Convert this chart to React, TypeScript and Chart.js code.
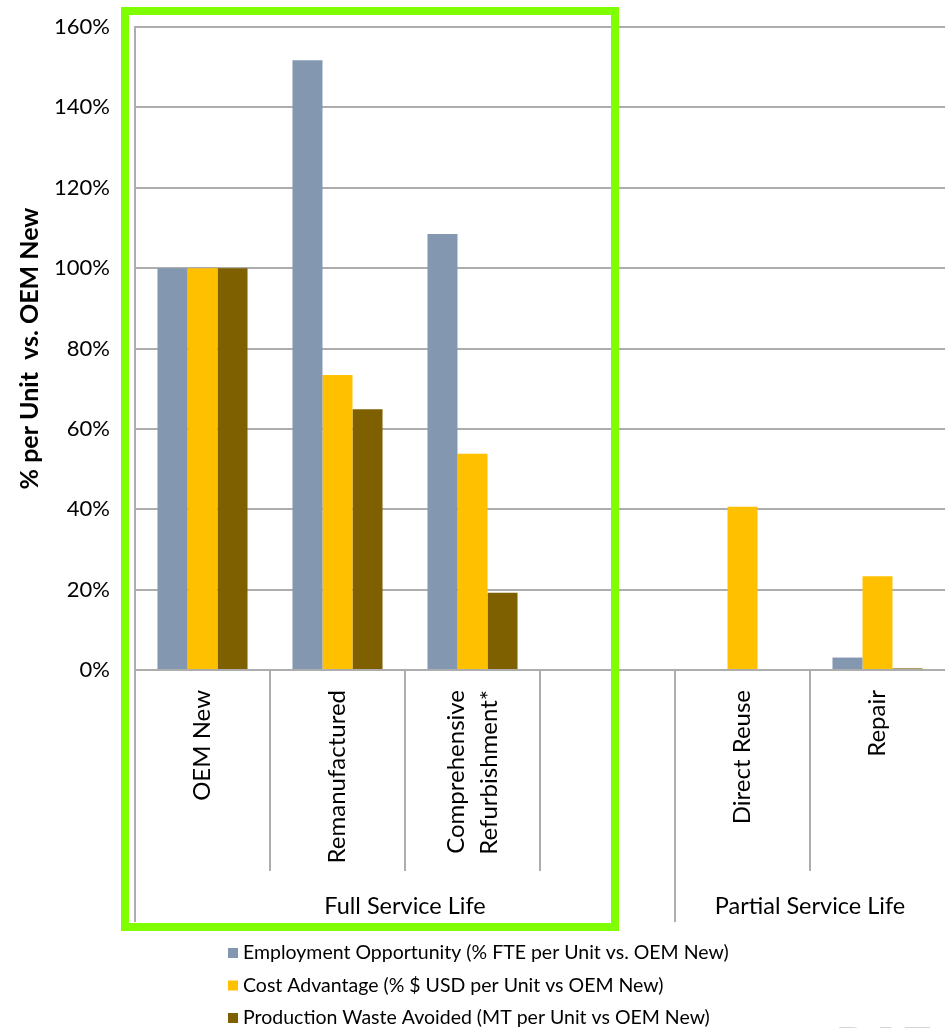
import React, { useEffect, useRef } from 'react';
import { Chart, registerables } from 'chart.js';

Chart.register(...registerables);

// Product categories along the x axis (the blank slot separates the two service-life groups)
const categories: (string | string[])[] = [
  'OEM New',
  'Remanufactured',
  ['Comprehensive', 'Refurbishment*'],
  '',
  'Direct Reuse',
  'Repair',
];

// Values in % per unit relative to OEM New
const employmentOpportunity: (number | null)[] = [100, 151.7, 108.5, null, null, 3.1];
const costAdvantage: (number | null)[] = [100, 73.4, 53.8, null, 40.6, 23.3];
const productionWasteAvoided: (number | null)[] = [100, 64.9, 19.2, null, null, 0.4];

const seriesNames = [
  'Employment Opportunity (% FTE per Unit vs. OEM New)',
  'Cost Advantage (% $ USD per Unit vs OEM New)',
  'Production Waste Avoided (MT per Unit vs OEM New)',
];
const seriesColors = ['#8497B0', '#FFC000', '#7F6000'];

// Category groups: label, first index, end index (exclusive)
const groupLabels = ['Full Service Life', 'Partial Service Life'];
const groupStarts = [0, 4];
const groupEnds = [4, 6];

const yMin = 0;
const yMax = 160;
const yStep = 20;
const yTitle = '% per Unit  vs. OEM New';

const FONT = 'Lato, "Open Sans", sans-serif';
const LINE = '#ADADAD';

const decorPlugin = {
  id: 'decor',
  afterDraw(chart: any) {
    const { ctx } = chart;
    const xs = chart.scales.x;
    const n = categories.length;
    const cw = (xs.right - xs.left) / n;
    const axisY = xs.top;

    ctx.save();
    // category separators below the axis; longer ones at group boundaries
    ctx.strokeStyle = LINE;
    ctx.lineWidth = 2;
    for (let i = 0; i < n; i++) {
      const x = Math.round(xs.left + i * cw);
      const isGroupEdge = groupStarts.includes(i);
      ctx.beginPath();
      ctx.moveTo(x, axisY);
      ctx.lineTo(x, isGroupEdge ? axisY + 252 : axisY + 201);
      ctx.stroke();
    }

    // rotated category labels, multi-line labels centred on their category
    ctx.fillStyle = '#000';
    ctx.font = `24px ${FONT}`;
    ctx.textAlign = 'right';
    ctx.textBaseline = 'middle';
    categories.forEach((lab, i) => {
      const lines = Array.isArray(lab) ? lab : [lab];
      const cx = xs.getPixelForValue(i);
      lines.forEach((ln, j) => {
        const lx = cx + (j - (lines.length - 1) / 2) * 33;
        ctx.save();
        ctx.translate(lx, axisY + 20);
        ctx.rotate(-Math.PI / 2);
        ctx.fillText(ln, 0, 0);
        ctx.restore();
      });
    });

    // group labels
    ctx.font = `23.5px ${FONT}`;
    ctx.textAlign = 'center';
    ctx.textBaseline = 'middle';
    groupLabels.forEach((g, gi) => {
      const cx = xs.left + ((groupStarts[gi] + groupEnds[gi]) / 2) * cw;
      ctx.fillText(g, cx, axisY + 236);
    });

    // highlight frame around the full-service-life group
    ctx.strokeStyle = '#80FF00';
    ctx.lineWidth = 8;
    ctx.strokeRect(125, 11, 490, 916);

    // legend
    ctx.font = `19.5px ${FONT}`;
    ctx.textAlign = 'left';
    ctx.textBaseline = 'middle';
    seriesNames.forEach((name, i) => {
      const y = 953 + i * 32.5;
      ctx.fillStyle = seriesColors[i];
      ctx.fillRect(228, y - 5, 10, 10);
      ctx.fillStyle = '#000';
      ctx.fillText(name, 243, y);
    });

    // faint watermark letters at the bottom edge
    ctx.fillStyle = 'rgba(150,150,150,0.4)';
    ctx.font = '44px "Liberation Serif", serif';
    ctx.textBaseline = 'top';
    ctx.textAlign = 'left';
    ctx.fillText('R I T', 838, 1022);
    ctx.restore();
  },
};

export default function App() {
  const ref = useRef<HTMLCanvasElement | null>(null);

  useEffect(() => {
    if (!ref.current) return;
    const chart = new Chart(ref.current, {
      type: 'bar',
      data: {
        labels: categories as any,
        datasets: [employmentOpportunity, costAdvantage, productionWasteAvoided].map((d, i) => ({
          label: seriesNames[i],
          data: d,
          backgroundColor: seriesColors[i],
          borderWidth: 0,
          categoryPercentage: 0.667,
          barPercentage: 1,
        })),
      },
      options: {
        animation: false,
        responsive: false,
        devicePixelRatio: 1,
        layout: { padding: { top: 27, right: 0, left: 0, bottom: 0 } },
        plugins: {
          legend: { display: false },
          tooltip: { enabled: false },
        },
        scales: {
          x: {
            offset: true,
            grid: { display: false },
            border: { display: true, color: LINE, width: 2 },
            ticks: { display: false },
            afterFit: (s: any) => {
              s.height = 358;
            },
          },
          y: {
            min: yMin,
            max: yMax,
            grid: { color: LINE, lineWidth: 2, drawTicks: false },
            border: { display: true, color: LINE, width: 2 },
            ticks: {
              stepSize: yStep,
              padding: 25,
              color: '#000',
              font: { family: FONT, size: 22 },
              callback: (v: any) => `${v}%`,
            },
            title: {
              display: true,
              text: yTitle,
              color: '#000',
              font: { family: FONT, size: 25, weight: 'bold' },
              padding: { top: 15, bottom: 0 },
            },
            afterFit: (s: any) => {
              s.width = 135;
              s.paddingTop = 0;
              s.paddingBottom = 0;
            },
          },
        },
      },
      plugins: [decorPlugin],
    });
    return () => chart.destroy();
  }, []);

  return (
    <div style={{ position: 'absolute', left: 0, top: 0, width: 945, height: 1028, background: '#fff' }}>
      <canvas ref={ref} width={945} height={1028} />
    </div>
  );
}
